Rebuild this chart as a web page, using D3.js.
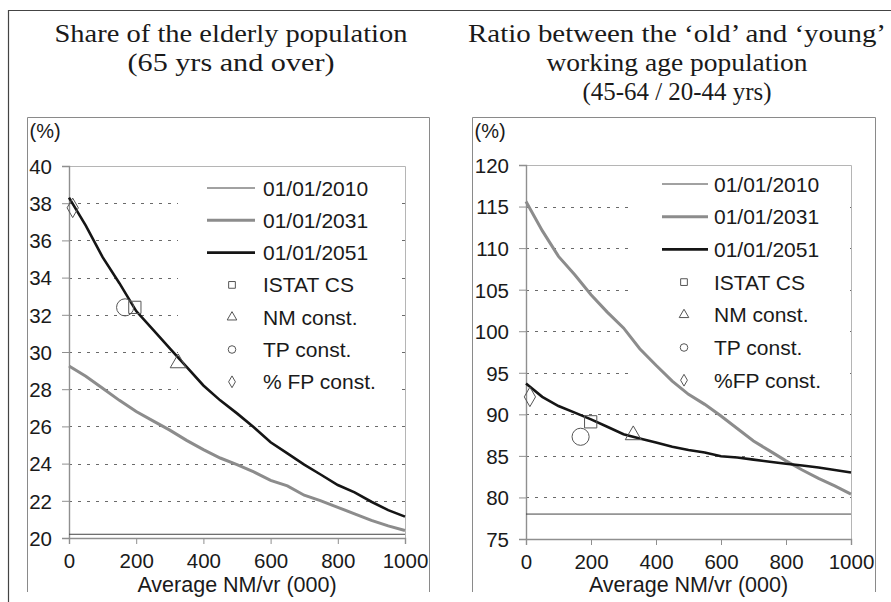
<!DOCTYPE html>
<html>
<head>
<meta charset="utf-8">
<script src="https://cdn.jsdelivr.net/npm/d3@7"></script>
<style>
  body { margin: 0; background: #fff; }
  svg { display: block; }
  .tick-label, .leg-text, .axis-title, .unit { font-family: "Liberation Sans", Arial, sans-serif; fill: #1a1a1a; }
  .title { font-family: "Liberation Serif", "Times New Roman", serif; fill: #1a1a1a; }
</style>
</head>
<body>
<div id="chart"></div>
<script>
// x values: average net migration per year (000)
var nmX = [0, 50, 100, 150, 200, 250, 300, 350, 400, 450, 500, 550, 600, 650, 700, 750, 800, 850, 900, 950, 1000];

// share of elderly population (%)
var elderly2010 = [20.2, 20.2];
var elderly2031 = [29.25, 28.7, 28.05, 27.4, 26.8, 26.3, 25.8, 25.25, 24.75, 24.3, 23.95, 23.55, 23.1, 22.8, 22.3, 22.0, 21.65, 21.3, 20.95, 20.65, 20.4];
var elderly2051 = [38.3, 36.8, 35.1, 33.7, 32.2, 31.2, 30.2, 29.2, 28.2, 27.4, 26.7, 25.95, 25.15, 24.55, 23.95, 23.4, 22.85, 22.45, 21.95, 21.5, 21.15];
// scenario points: ISTAT CS, NM const., TP const., % FP const.
var elderlyPointsX = [196, 325, 167, 11];
var elderlyPointsY = [32.4, 29.4, 32.4, 37.75];

// ratio old/young working age (%)
var ratio2010 = [78, 78];
var ratio2031 = [115.6, 112.1, 109.0, 106.8, 104.4, 102.3, 100.4, 97.9, 95.9, 94.0, 92.4, 91.2, 89.8, 88.3, 86.8, 85.6, 84.4, 83.3, 82.3, 81.4, 80.4];
var ratio2051 = [93.7, 92.1, 91.0, 90.2, 89.4, 88.5, 87.6, 87.1, 86.6, 86.1, 85.7, 85.4, 84.95, 84.8, 84.55, 84.3, 84.05, 83.85, 83.6, 83.3, 83.0];
var ratioPointsX = [199, 330, 168, 12];
var ratioPointsY = [89.1, 87.5, 87.3, 92.1];

var xTicks = [0, 200, 400, 600, 800, 1000];
var elderlyTicks = [20, 22, 24, 26, 28, 30, 32, 34, 36, 38, 40];
var ratioTicks = [75, 80, 85, 90, 95, 100, 105, 110, 115, 120];

var seriesNames = ["01/01/2010", "01/01/2031", "01/01/2051"];
var leftPointNames = ["ISTAT CS", "NM const.", "TP const.", "% FP const."];
var rightPointNames = ["ISTAT CS", "NM const.", "TP const.", "%FP const."];

var width = 891, height = 602;

var svg = d3.select("#chart").append("svg")
  .attr("width", width)
  .attr("height", height);

// outer frame (top and left only, rest is cropped)
svg.append("path")
  .attr("d", "M8.5,602 V10.5 H891")
  .attr("fill", "none")
  .attr("stroke", "#444")
  .attr("stroke-width", 1.2);

var symbols = [d3.symbolSquare, d3.symbolTriangle, d3.symbolCircle, d3.symbolDiamond];

function drawPanel(p) {
  // chart area box
  svg.append("path")
    .attr("d", "M" + p.box[0] + ",592 V" + p.box[1] + " H" + p.box[2] + " V592")
    .attr("fill", "none")
    .attr("stroke", "#8a8a8a")
    .attr("stroke-width", 1);

  // title lines, stretched a little to the width of the original
  p.title.forEach(function(t, i) {
    svg.append("text").attr("class", "title")
      .attr("x", p.titleX).attr("y", 42 + i * 29)
      .attr("text-anchor", "middle")
      .attr("textLength", p.titleW[i])
      .attr("lengthAdjust", "spacingAndGlyphs")
      .style("font-size", "26px")
      .text(t);
  });

  svg.append("text").attr("class", "unit")
    .attr("x", p.box[0] + 2).attr("y", 138)
    .style("font-size", "20px")
    .text("(%)");

  var x = d3.scaleLinear().domain([0, 1000]).range([p.left, p.right]);
  var y = d3.scaleLinear().domain(p.yDomain).range([p.bottom, p.top]);

  // plot area border (top + right)
  svg.append("path")
    .attr("d", "M" + p.left + "," + (p.top + 0.5) + " H" + (p.right + 0.5) + " V" + p.bottom)
    .attr("fill", "none")
    .attr("stroke", "#b5b5b5");

  // dashed gridlines
  svg.append("g").selectAll("line")
    .data(p.yTicks.slice(1, -1))
    .enter().append("line")
      .attr("x1", p.left).attr("x2", p.right)
      .attr("y1", function(d) { return Math.round(y(d)) + 0.5; })
      .attr("y2", function(d) { return Math.round(y(d)) + 0.5; })
      .attr("stroke", "#6a6a6a")
      .attr("stroke-dasharray", "3,6");

  // legend background hides the gridlines
  svg.append("rect")
    .attr("x", p.leg.x0).attr("y", 170)
    .attr("width", p.leg.x1 - p.leg.x0).attr("height", 228)
    .attr("fill", "#fff");

  // axes
  var yAxis = svg.append("g")
    .attr("transform", "translate(" + p.left + ",0)")
    .call(d3.axisLeft(y).tickValues(p.yTicks).tickSize(7).tickPadding(10));
  var xAxis = svg.append("g")
    .attr("transform", "translate(0," + p.bottom + ")")
    .call(d3.axisBottom(x).tickValues(xTicks).tickFormat(d3.format("d")).tickSize(6).tickPadding(6));
  [yAxis, xAxis].forEach(function(a) {
    a.attr("font-family", null).attr("font-size", null);
    a.select(".domain").attr("stroke", "#8f8f8f").attr("stroke-width", 1.4);
    a.selectAll(".tick line").attr("stroke", "#8f8f8f");
    a.selectAll(".tick text").attr("class", "tick-label")
      .style("font-size", "20.5px").attr("fill", "#1a1a1a");
  });
  yAxis.selectAll(".tick text").attr("dy", "0.36em");
  xAxis.selectAll(".tick text").attr("dy", "0.88em");

  svg.append("text").attr("class", "axis-title")
    .attr("x", (p.left + p.right) / 2).attr("y", 592)
    .attr("text-anchor", "middle")
    .style("font-size", "21.5px")
    .text("Average NM/vr (000)");

  var line = d3.line()
    .x(function(d) { return x(d[0]); })
    .y(function(d) { return y(d[1]); });

  // 2010: flat line
  svg.append("path")
    .datum([[0, p.s2010[0]], [1000, p.s2010[1]]])
    .attr("d", line).attr("fill", "none")
    .attr("stroke", "#444").attr("stroke-width", 1);

  svg.append("path")
    .datum(nmX.map(function(v, i) { return [v, p.s2031[i]]; }))
    .attr("d", line).attr("fill", "none")
    .attr("stroke", "#8c8c8c").attr("stroke-width", 3);

  svg.append("path")
    .datum(nmX.map(function(v, i) { return [v, p.s2051[i]]; }))
    .attr("d", line).attr("fill", "none")
    .attr("stroke", "#151515").attr("stroke-width", 2.6);

  // scenario markers
  var bigSizes = [150, 110, 230, 110];
  p.ptsX.forEach(function(v, i) {
    svg.append("path")
      .attr("d", d3.symbol().type(symbols[i]).size(bigSizes[i]))
      .attr("transform", "translate(" + x(v) + "," + y(p.ptsY[i]) + ")")
      .attr("fill", "none").attr("stroke", "#555").attr("stroke-width", 1);
  });

  // legend
  var rowY = function(i) { return p.leg.y0 + i * p.leg.dy; };
  var lineStyles = [["#444", 1], ["#8c8c8c", 3], ["#151515", 2.6]];
  seriesNames.forEach(function(n, i) {
    svg.append("line")
      .attr("x1", p.leg.lx0).attr("x2", p.leg.lx1)
      .attr("y1", rowY(i)).attr("y2", rowY(i))
      .attr("stroke", lineStyles[i][0]).attr("stroke-width", lineStyles[i][1]);
  });
  var smallSizes = [45, 40, 45, 40];
  p.pointNames.forEach(function(n, i) {
    svg.append("path")
      .attr("d", d3.symbol().type(symbols[i]).size(smallSizes[i]))
      .attr("transform", "translate(" + p.leg.mx + "," + rowY(i + 3) + ")")
      .attr("fill", "none").attr("stroke", "#555").attr("stroke-width", 1);
  });
  seriesNames.concat(p.pointNames).forEach(function(n, i) {
    svg.append("text").attr("class", "leg-text")
      .attr("x", p.leg.tx).attr("y", rowY(i))
      .attr("dy", "0.36em")
      .style("font-size", "21px")
      .text(n);
  });
}

drawPanel({
  box: [27.5, 117.5, 429.5],
  title: ["Share of the elderly population", "(65 yrs and over)"],
  titleW: [353, 207],
  titleX: 231,
  left: 69, right: 405, top: 166, bottom: 538,
  yDomain: [20, 40], yTicks: elderlyTicks,
  s2010: elderly2010, s2031: elderly2031, s2051: elderly2051,
  ptsX: elderlyPointsX, ptsY: elderlyPointsY,
  pointNames: leftPointNames,
  leg: { x0: 178, x1: 402, y0: 188, dy: 32.3, lx0: 207, lx1: 255, mx: 232, tx: 263 }
});

drawPanel({
  box: [472.5, 117.5, 875.5],
  title: ["Ratio between the \u2018old\u2019 and \u2018young\u2019", "working age population", "(45-64 / 20-44 yrs)"],
  titleW: [418, 261, 189],
  titleX: 677,
  left: 526, right: 851, top: 165, bottom: 539,
  yDomain: [75, 120], yTicks: ratioTicks,
  s2010: ratio2010, s2031: ratio2031, s2051: ratio2051,
  ptsX: ratioPointsX, ptsY: ratioPointsY,
  pointNames: rightPointNames,
  leg: { x0: 633, x1: 848, y0: 184, dy: 32.7, lx0: 662, lx1: 708, mx: 684, tx: 714 }
});
</script>
</body>
</html>
